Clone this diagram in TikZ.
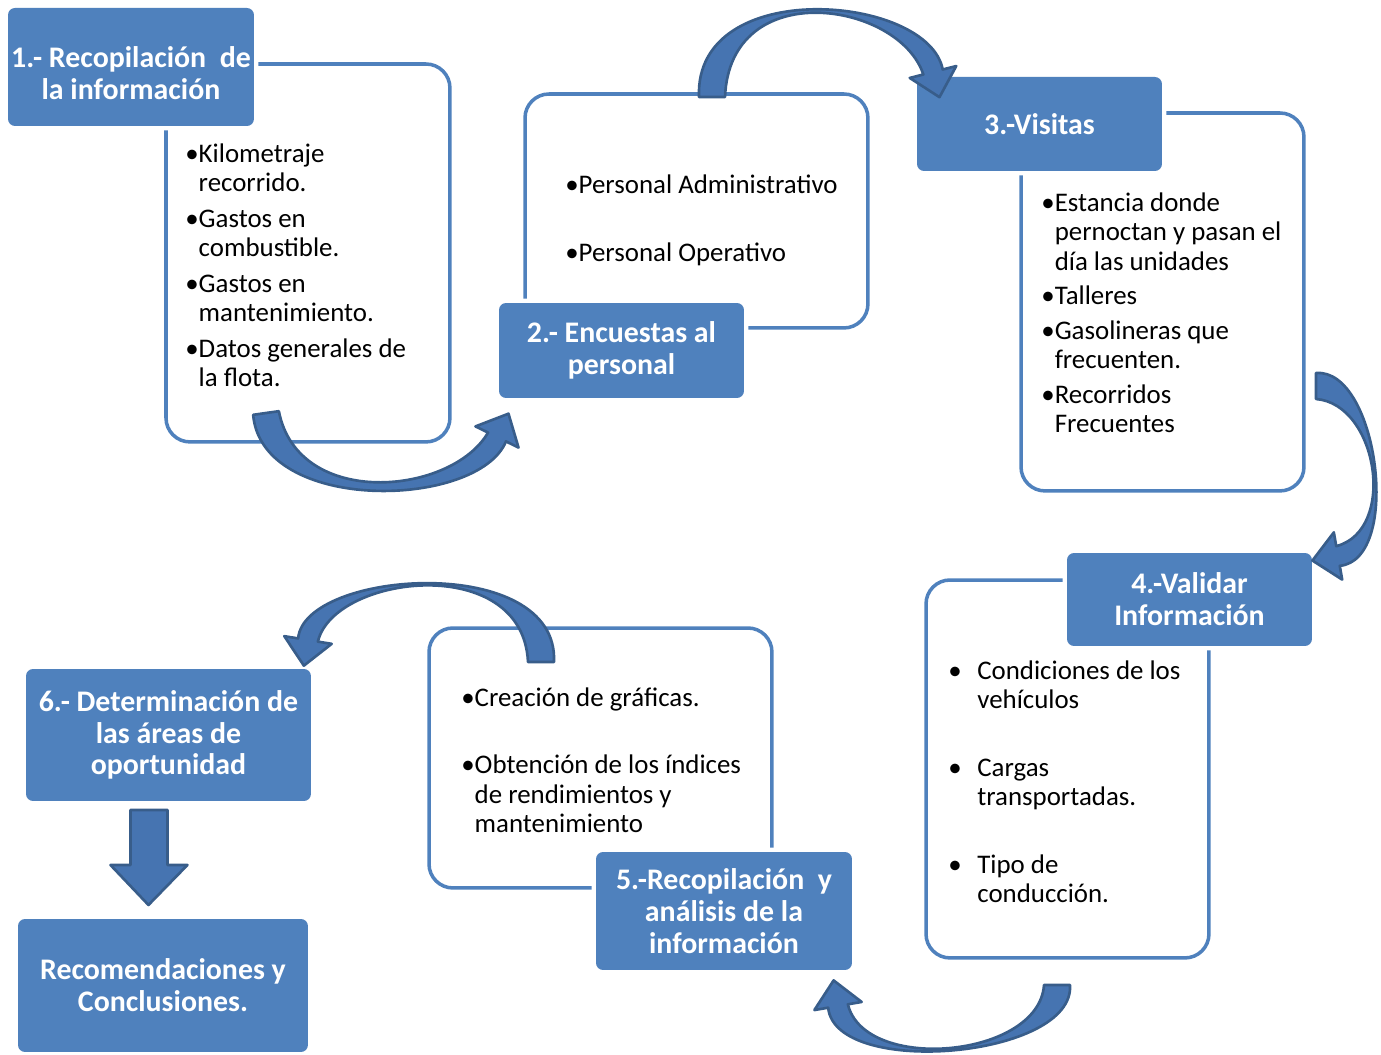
\documentclass[tikz,border=0pt]{standalone}
\usepackage{fontspec}
\setmainfont{Carlito}
\usetikzlibrary{calc}
\definecolor{boxblue}{HTML}{4F81BD}
\definecolor{arrowfill}{HTML}{4674B1}
\definecolor{arrowline}{HTML}{385D8A}
\newcommand{\bul}{\textbullet}
\newcommand{\ind}{\phantom{\textbullet}}
\newcommand{\tbul}{\makebox[0.58cm][l]{\textbullet}}
\newcommand{\tind}{\hspace*{0.58cm}}
% tapered bent arrow: start, two controls, head base
\newcommand{\bendArrow}[4]{
    \coordinate (p0) at (#1); \coordinate (p1) at (#2);
    \coordinate (p2) at (#3); \coordinate (p3) at (#4);
    \filldraw[bendarrow]
        ($(p0)!0.26cm!90:(p1)$) .. controls ($(p1)!0.36cm!-90:(p0)$) and ($(p2)!0.3cm!90:(p3)$) .. ($(p3)!0.2cm!-90:(p2)$)
        -- ($(p3)!0.48cm!-90:(p2)$) -- ($(p3)!-0.52cm!(p2)$) -- ($(p3)!0.48cm!90:(p2)$)
        -- ($(p3)!0.2cm!90:(p2)$) .. controls ($(p2)!0.3cm!-90:(p3)$) and ($(p1)!0.36cm!90:(p0)$) .. ($(p0)!0.26cm!-90:(p1)$)
        -- cycle;
}

\begin{document}
\begin{tikzpicture}[x=0.02cm, y=-0.02cm,
    titlebox/.style={fill=boxblue, rounded corners=0.14cm, preaction={draw=white, line width=5pt},
        text=white, font=\fontsize{17}{18.1}\selectfont\bfseries, align=center,
        anchor=north west, inner sep=0pt, outer sep=0pt},
    listbox/.style={draw=boxblue, line width=2pt, fill=white, rounded corners=0.48cm,
        anchor=north west, inner sep=0pt, outer sep=0pt},
    listtext/.style={anchor=north west, inner sep=0pt, align=left,
        font=\fontsize{15.3}{16.8}\selectfont},
    bendarrow/.style={fill=arrowfill, draw=arrowline, line width=1.5pt, line join=round}]

\useasboundingbox (0,0) rectangle (1381,1054);

% Content boxes
\node[listbox, minimum width=5.68cm, minimum height=7.56cm] (c1) at (166,64) {};
\node[listbox, minimum width=6.86cm, minimum height=4.68cm] (c2) at (525,94) {};
\node[listbox, minimum width=5.66cm, minimum height=7.56cm] (c3) at (1021,113) {};
\node[listbox, minimum width=5.66cm, minimum height=7.56cm] (c4) at (926,580) {};
\node[listbox, minimum width=6.86cm, minimum height=5.20cm] (c5) at (429,628) {};

% Step titles
\node[titlebox, minimum width=4.92cm, minimum height=2.36cm] (h1) at (8,8) {\rule{0pt}{0.66cm}1.- Recopilación\ \ de\\la información};
\node[titlebox, minimum width=4.90cm, minimum height=1.90cm] (h2) at (499,303) {2.- Encuestas al\\personal};
\node[titlebox, minimum width=4.90cm, minimum height=1.88cm] (h3) at (917,77) {3.-Visitas};
\node[titlebox, minimum width=4.90cm, minimum height=1.86cm] (h4) at (1067,553) {4.-Validar\\Información};
\node[titlebox, minimum width=5.12cm, minimum height=2.36cm] (h5) at (596,852) {5.-Recopilación\ \ y\\análisis de la\\información};
\node[titlebox, minimum width=5.70cm, minimum height=2.64cm] (h6) at (26,669) {6.- Determinación de\\las áreas de\\oportunidad};
\node[titlebox, minimum width=5.80cm, minimum height=2.66cm] (h7) at (18,919) {Recomendaciones y\\Conclusiones.};

% Lists
\node[listtext] (t1) at ([shift={(19,79)}]c1.north west) {\bul Kilometraje\\\ind recorrido.\\[0.12cm]\bul Gastos en\\\ind combustible.\\[0.12cm]\bul Gastos en\\\ind mantenimiento.\\[0.12cm]\bul Datos generales de\\\ind la flota.};
\node[listtext] (t2) at ([shift={(40,80)}]c2.north west) {\bul Personal Administrativo\\[0.78cm]\bul Personal Operativo};
\node[listtext] (t3) at ([shift={(20,79)}]c3.north west) {\bul Estancia donde\\\ind pernoctan y pasan el\\\ind día las unidades\\[0.1cm]\bul Talleres\\[0.1cm]\bul Gasolineras que\\\ind frecuenten.\\[0.1cm]\bul Recorridos\\\ind Frecuentes};
\node[listtext] (t4) at ([shift={(22,80)}]c4.north west) {\tbul Condiciones de los\\\tind vehículos\\[0.76cm]\tbul Cargas\\\tind transportadas.\\[0.76cm]\tbul Tipo de\\\tind conducción.};
\node[listtext] (t5) at ([shift={(32,59)}]c5.north west) {\bul Creación de gráficas.\\[0.76cm]\bul Obtención de los índices\\\ind de rendimientos y\\\ind mantenimiento};

% Curved arrows between the steps
\coordinate (a1s) at (266,413);  \coordinate (a1e) at (497,437);
\coordinate (a2s) at (712,97);   \coordinate (a2e) at (933,72);
\coordinate (a3s) at (1316,386); \coordinate (a3e) at (1338,556);
\coordinate (a4s) at (1057,985); \coordinate (a4e) at (838,1006);
\coordinate (a5s) at (541,662);  \coordinate (a5e) at (308,640);

\bendArrow{a1s}{280,512}{465,502}{a1e}
\bendArrow{a2s}{712,-25}{914,-2}{a2e}
\bendArrow{a3s}{1378,386}{1400,545}{a3e}
\bendArrow{a4s}{1057,1058}{850,1076}{a4e}
\bendArrow{a5s}{541,552}{319,572}{a5e}

% Down arrow to the conclusions
\draw[bendarrow]
    ([shift={(-38,9)}]h6.south) -- ++(37,0) -- ++(0,55) -- ++(20,0)
    -- ++(-39,40) -- ++(-38,-40) -- ++(20,0) -- cycle;

\end{tikzpicture}
\end{document}
